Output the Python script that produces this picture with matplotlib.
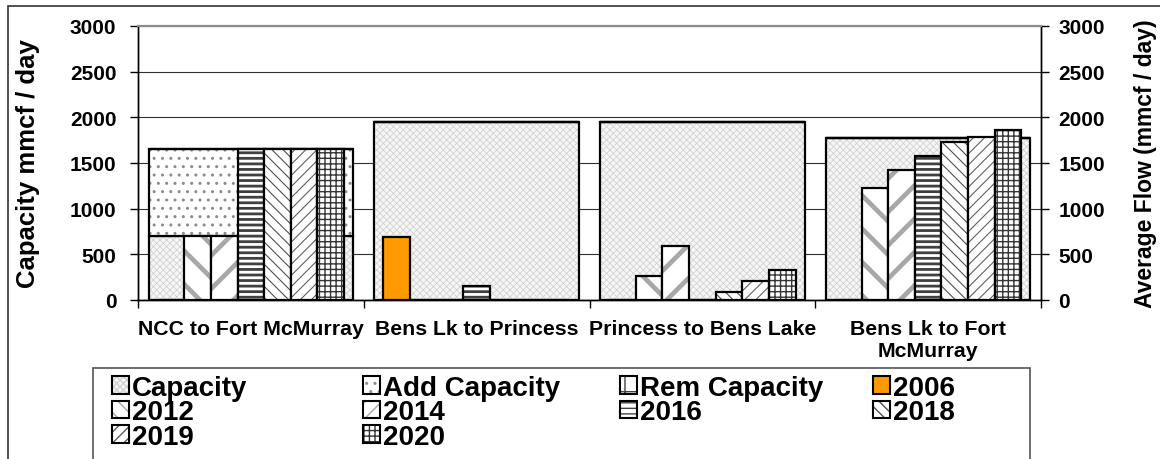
import numpy as np
import matplotlib
matplotlib.use('Agg')
import matplotlib.pyplot as plt
from matplotlib.patches import Patch, Rectangle
from matplotlib.legend_handler import HandlerTuple

plt.rcParams['font.family'] = ['Liberation Sans', 'DejaVu Sans']
plt.rcParams['font.weight'] = 'bold'
plt.rcParams['axes.labelweight'] = 'bold'

segments = ['NCC to Fort McMurray', 'Bens Lk to Princess', 'Princess to Bens Lake',
            'Bens Lk to Fort\nMcMurray']
capacity = [700, 1950, 1950, 1770]
add_capacity = [950, 0, 0, 0]
rem_capacity = [0, 0, 0, 0]

years = ['2006', '2012', '2014', '2016', '2018', '2019', '2020']
flow_2006 = [0, 690, 0, 0]
flow_2012 = [700, 0, 260, 1230]
flow_2014 = [700, 0, 590, 1420]
flow_2016 = [1650, 150, 0, 1580]
flow_2018 = [1650, 0, 90, 1730]
flow_2019 = [1650, 0, 210, 1790]
flow_2020 = [1650, 0, 330, 1860]
flows = [flow_2006, flow_2012, flow_2014, flow_2016, flow_2018, flow_2019, flow_2020]

# face, hatch colour, hatch, hatch linewidth
styles = {
    'Capacity':     ('#f6f6f6', '#d2d2d2', 'xxxxx', 0.6),
    'Add Capacity': ('white', '#8c8c8c', '..', 1.0),
    'Rem Capacity': ('white', '#404040', '+', 1.0),
    '2006':         ('#ff9900', '#ff9900', '', 1.0),
    '2012':         ('white', '#a8a8a8', '\\', 3.4),
    '2014':         ('white', '#a8a8a8', '/', 3.4),
    '2016':         ('white', '#404040', '---', 2.0),
    '2018':         ('white', '#505050', '\\\\\\', 0.8),
    '2019':         ('white', '#606060', '///', 0.8),
    '2020':         ('white', '#353535', '+++', 1.0),
}
# the legend swatches are small, so the wide stripes need a denser hatch there
legend_hatch = {'2012': '\\\\', '2014': '//'}


def hatched_bar(ax, x, h, width, bottom, name):
    face, hc, hatch, hlw = styles[name]
    with plt.rc_context({'hatch.linewidth': hlw}):
        bars = ax.bar(x, h, width, bottom=bottom, color=face, edgecolor=hc,
                      hatch=hatch, linewidth=0)
        for b in bars:
            if hasattr(b, 'set_hatch_linewidth'):
                b.set_hatch_linewidth(hlw)
    ax.bar(x, h, width, bottom=bottom, fill=False, edgecolor='black', linewidth=1.6)


def legend_handle(name):
    face, hc, hatch, hlw = styles[name]
    hatch = legend_hatch.get(name, hatch)
    if name in legend_hatch:
        hlw = 2.4
    with plt.rc_context({'hatch.linewidth': hlw}):
        p = Patch(facecolor=face, edgecolor=hc, hatch=hatch, linewidth=0)
        if hasattr(p, 'set_hatch_linewidth'):
            p.set_hatch_linewidth(hlw)
    return (p, Patch(fill=False, edgecolor='black', linewidth=1.5))


fig = plt.figure(figsize=(11.6, 4.6), dpi=100)
ax = fig.add_axes([138 / 1160, 1 - 301 / 460, 903 / 1160, 274 / 460])
ax2 = ax.twinx()

x = np.arange(len(segments))
cap_w = 0.905
bar_w = 0.118

# background capacity bars (left axis)
bottom2 = np.array(capacity) + np.array(add_capacity)
hatched_bar(ax, x, capacity, cap_w, 0, 'Capacity')
hatched_bar(ax, x, add_capacity, cap_w, capacity, 'Add Capacity')
hatched_bar(ax, x, rem_capacity, cap_w, bottom2, 'Rem Capacity')

# yearly flows (right axis)
for i, (yr, vals) in enumerate(zip(years, flows)):
    hatched_bar(ax2, x + (i - 3) * bar_w, vals, bar_w, 0, yr)

for a in (ax, ax2):
    a.set_ylim(0, 3000)
    a.set_yticks(np.arange(0, 3001, 500))
    a.set_xlim(-0.5, 3.5)
    for s in a.spines.values():
        s.set_linewidth(1.0)
    a.spines['top'].set_color('#8a8a8a')
    a.spines['top'].set_linewidth(1.5)

ax.grid(axis='y', color='#303030', linewidth=0.8)
ax.set_axisbelow(True)

ax.tick_params(axis='y', direction='out', length=6, width=1, pad=9.5, labelsize=15)
ax2.tick_params(axis='y', direction='out', length=6, width=1, pad=6.5, labelsize=15)

ax.set_xticks([-0.5, 0.5, 1.5, 2.5, 3.5])
ax.set_xticklabels([])
ax.set_xticks(x, minor=True)
ax.set_xticklabels(segments, minor=True, fontsize=15.3)
ax.tick_params(axis='x', which='major', direction='out', length=6, width=1)
ax.tick_params(axis='x', which='minor', length=0, pad=14)

ax.set_ylabel('Capacity mmcf / day', fontsize=18.5, fontweight='bold')
ax.yaxis.set_label_coords(-0.1085, 0.5)
ax2.set_ylabel('Average Flow (mmcf / day)', fontsize=16.5, fontweight='bold')
ax2.yaxis.set_label_coords(1.103, 0.5)

# legend laid out in rows of four, like the original
names = ['Capacity', 'Add Capacity', 'Rem Capacity', '2006', '2012', '2014',
         '2016', '2018', '2019', '2020']
col_idx = [[0, 4, 8], [1, 5, 9], [2, 6], [3, 7]]
col_x = [112 / 1160, 363 / 1160, 620 / 1160, 873 / 1160]
for xs, idx in zip(col_x, col_idx):
    fig.legend([legend_handle(names[k]) for k in idx], [names[k] for k in idx],
               handler_map={tuple: HandlerTuple(ndivide=1, pad=0)},
               loc='upper left', bbox_to_anchor=(xs, 1 - 376 / 460),
               frameon=False, fontsize=20, borderpad=0, borderaxespad=0,
               handlelength=0.6, handleheight=0.6, handletextpad=0.12,
               labelspacing=-0.06)

fig.add_artist(Rectangle((93 / 1160, -0.05), (1030 - 93) / 1160, 0.05 + 1 - 369 / 460,
                         transform=fig.transFigure, fill=False, edgecolor='#555555',
                         linewidth=1.2))
fig.add_artist(Rectangle((8 / 1160, -0.05), 1.2, 0.05 + 1 - 7 / 460,
                         transform=fig.transFigure, fill=False, edgecolor='#333333',
                         linewidth=1.2))

fig.savefig('out.png', dpi=100)
